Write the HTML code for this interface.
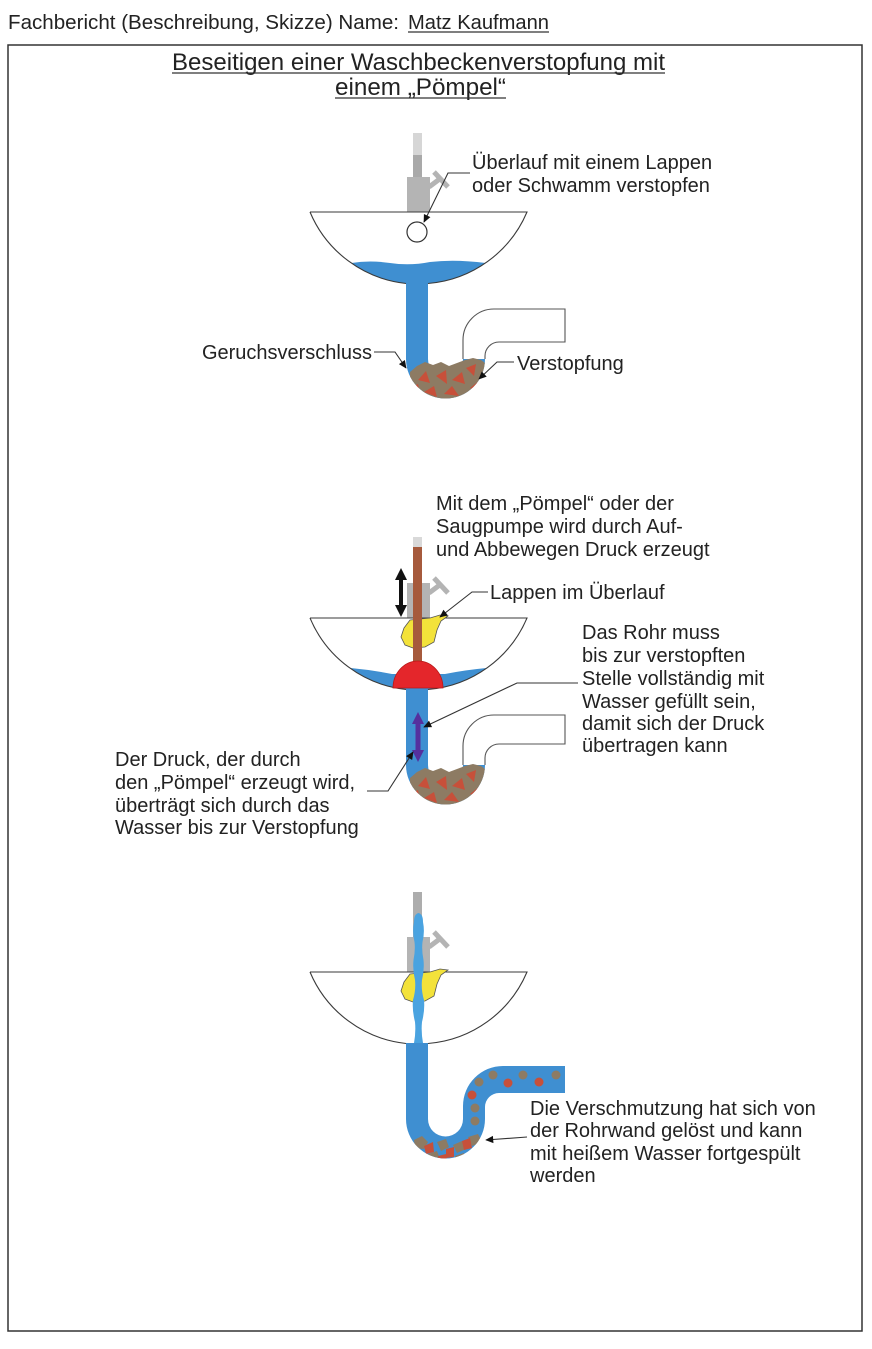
<!DOCTYPE html>
<html><head><meta charset="utf-8"><style>
html,body{margin:0;padding:0;background:#fff;}
svg{display:block;}
text{font-family:"Liberation Sans",Arial,sans-serif;fill:#222;}
</style></head><body>
<svg width="872" height="1349" viewBox="0 0 872 1349" xmlns="http://www.w3.org/2000/svg">
<defs>
<marker id="ah" viewBox="0 0 10 10" refX="9" refY="5" markerWidth="10" markerHeight="8" markerUnits="userSpaceOnUse" orient="auto"><path d="M0,0.5 L10,5 L0,9.5 Z" fill="#111"/></marker>
<clipPath id="uc"><path d="M406,330 L406,359 A39.5,39.5 0 0 0 485,359 L485,330 Z"/></clipPath>
<clipPath id="p3"><path d="M406,283 L406,359 A39.5,39.5 0 0 0 485,359 L485,347 A14,14 0 0 1 499,333 L565,333 L565,306 L503,306 A40,40 0 0 0 463,346 L463,359 A17.5,17.5 0 0 1 428,359 L428,283 Z"/></clipPath>
<g id="faucet">
<rect x="407" y="177" width="23" height="35" fill="#b4b4b4"/>
<line x1="429" y1="187" x2="441" y2="178" stroke="#b4b4b4" stroke-width="5"/>
<line x1="434" y1="172" x2="448" y2="187" stroke="#b4b4b4" stroke-width="5"/>
</g>
<path id="bowlfill" d="M310,212 L527,212 A117.75,117.75 0 0 1 310,212 Z" fill="#fff"/>
<path id="bowlstroke" d="M310,212 L527,212 A117.75,117.75 0 0 1 428,283.5 M406,283.5 A117.75,117.75 0 0 1 310,212" fill="none" stroke="#3a3a3a" stroke-width="1.1"/>
<path id="pipeblue" d="M406,282 L406,359 A39.5,39.5 0 0 0 485,359 L463,359 A17.5,17.5 0 0 1 428,359 L428,282 Z" fill="#3f8fd1"/>
<g id="dirt">
<g clip-path="url(#uc)">
<path d="M410,372 L417,366 L425,362 L433,365 L441,362 L449,366 L457,363 L465,360 L473,358 L481,360 L489,366 L489,402 L410,402 Z" fill="#8d7b63"/>
<path fill="#c7503a" d="M418,380 L426,371 L430,383 Z M436,376 L446,370 L447,384 Z M452,380 L462,372 L465,384 Z M466,368 L476,364 L474,376 Z M424,392 L434,386 L437,397 Z M444,394 L452,386 L459,396 Z M470,388 L480,380 L482,392 Z M410,388 L418,384 L420,394 Z"/>
</g>
</g>
</defs>

<!-- Header -->
<text x="8" y="29" font-size="20" textLength="391" lengthAdjust="spacingAndGlyphs">Fachbericht (Beschreibung, Skizze) Name:</text>
<text x="408" y="29" font-size="20" textLength="141" lengthAdjust="spacingAndGlyphs">Matz Kaufmann</text>
<line x1="408" y1="32" x2="549" y2="32" stroke="#333" stroke-width="1.2"/>

<!-- Box -->
<rect x="8" y="45" width="854" height="1286" fill="none" stroke="#333" stroke-width="1.5"/>

<!-- Title -->
<text x="172" y="70" font-size="24" textLength="493" lengthAdjust="spacingAndGlyphs">Beseitigen einer Waschbeckenverstopfung mit</text>
<line x1="172" y1="73" x2="665" y2="73" stroke="#333" stroke-width="1.2"/>
<text x="335" y="95" font-size="24" textLength="171" lengthAdjust="spacingAndGlyphs">einem „Pömpel“</text>
<line x1="335" y1="98" x2="506" y2="98" stroke="#333" stroke-width="1.2"/>

<!-- ===== Sink 1 ===== -->
<g>
<rect x="413" y="133" width="9" height="22" fill="#d6d6d6"/>
<rect x="413" y="155" width="9" height="22" fill="#a9a9a9"/>
<use href="#faucet"/>
<use href="#bowlfill"/>
<path d="M351.4,263 Q370,260 390,263 Q410,266 430,262 Q455,259 485.6,263 A117.75,117.75 0 0 1 428,283.5 L406,283.5 A117.75,117.75 0 0 1 351.4,263 Z" fill="#3f8fd1"/>
<use href="#pipeblue"/>
<path d="M463,359 L463,340 A31,31 0 0 1 494,309 L565,309 L565,342 L499,342 A14,14 0 0 0 485,356 L485,359" fill="#fff" stroke="#555" stroke-width="1.1"/>
<use href="#dirt"/>
<use href="#bowlstroke"/>
<circle cx="417" cy="232" r="10" fill="#fff" stroke="#333" stroke-width="1.2"/>
</g>
<polyline points="470,173 448,173 424,222" fill="none" stroke="#333" stroke-width="1.1" marker-end="url(#ah)"/>
<polyline points="374,352 395,352 406,368" fill="none" stroke="#333" stroke-width="1.1" marker-end="url(#ah)"/>
<polyline points="514,362 497,362 479,379" fill="none" stroke="#333" stroke-width="1.1" marker-end="url(#ah)"/>
<text x="472" y="169" font-size="20">Überlauf mit einem Lappen</text>
<text x="472" y="192" font-size="20">oder Schwamm verstopfen</text>
<text x="372" y="359" font-size="20" text-anchor="end">Geruchsverschluss</text>
<text x="517" y="370" font-size="20">Verstopfung</text>

<!-- ===== Sink 2 ===== -->
<g transform="translate(0,406)">
<use href="#faucet"/>
<polygon points="401,162 407,174 403,174 403,199 407,199 401,211 395,199 399,199 399,174 395,174" fill="#111"/>
<use href="#bowlfill"/>
<path d="M350.5,262 Q372,264 392,268 L445,268 Q465,264 486.5,262 A117.75,117.75 0 0 1 428,283.5 L406,283.5 A117.75,117.75 0 0 1 350.5,262 Z" fill="#3f8fd1"/>
<use href="#pipeblue"/>
<path d="M463,359 L463,340 A31,31 0 0 1 494,309 L565,309 L565,338 L499,338 A14,14 0 0 0 485,352 L485,359" fill="#fff" stroke="#555" stroke-width="1.1"/>
<use href="#dirt"/>
<use href="#bowlstroke"/>
<path d="M404,222 L410,214 L420,213 L430,212 L440,209 L448,210 L441,215 L437,224 L434,236 L425,241 L413,242 L405,239 L401,231 Z" fill="#f3e23a" stroke="#555" stroke-width="0.8"/>
<rect x="413" y="131" width="9" height="10" fill="#d9d9d9"/>
<rect x="413" y="141" width="9" height="118" fill="#a65a3c"/>
<path d="M393,282 A25,27 0 0 1 443,282 Z" fill="#e4262b" stroke="#b81818" stroke-width="0.8"/>
<polygon points="418,306 424,318 420.5,318 420.5,344 424,344 418,356 412,344 415.5,344 415.5,318 412,318" fill="#55309e"/>
</g>
<polyline points="488,592 472,592 440,617" fill="none" stroke="#333" stroke-width="1.1" marker-end="url(#ah)"/>
<polyline points="578,683 517,683 424,727" fill="none" stroke="#333" stroke-width="1.1" marker-end="url(#ah)"/>
<polyline points="367,791 388,791 413,752" fill="none" stroke="#333" stroke-width="1.1" marker-end="url(#ah)"/>
<text x="436" y="510" font-size="20">Mit dem „Pömpel“ oder der</text>
<text x="436" y="533" font-size="20">Saugpumpe wird durch Auf-</text>
<text x="436" y="556" font-size="20">und Abbewegen Druck erzeugt</text>
<text x="490" y="599" font-size="20">Lappen im Überlauf</text>
<text x="582" y="639" font-size="20">Das Rohr muss</text>
<text x="582" y="662" font-size="20">bis zur verstopften</text>
<text x="582" y="685" font-size="20">Stelle vollständig mit</text>
<text x="582" y="708" font-size="20">Wasser gefüllt sein,</text>
<text x="582" y="730" font-size="20">damit sich der Druck</text>
<text x="582" y="752" font-size="20">übertragen kann</text>
<text x="115" y="766" font-size="20">Der Druck, der durch</text>
<text x="115" y="789" font-size="20">den „Pömpel“ erzeugt wird,</text>
<text x="115" y="812" font-size="20">überträgt sich durch das</text>
<text x="115" y="834" font-size="20">Wasser bis zur Verstopfung</text>

<!-- ===== Sink 3 ===== -->
<g transform="translate(0,760)">
<rect x="413" y="132" width="9" height="45" fill="#adadad"/>
<use href="#faucet"/>
<use href="#bowlfill"/>
<path d="M406,283 L406,359 A39.5,39.5 0 0 0 485,359 L485,347 A14,14 0 0 1 499,333 L565,333 L565,306 L503,306 A40,40 0 0 0 463,346 L463,359 A17.5,17.5 0 0 1 428,359 L428,283 Z" fill="#3f8fd1"/>
<g clip-path="url(#p3)">
<circle cx="493" cy="315" r="4.5" fill="#8d7b63"/>
<circle cx="508" cy="323" r="4.5" fill="#c7503a"/>
<circle cx="523" cy="315" r="4.5" fill="#8d7b63"/>
<circle cx="539" cy="322" r="4.5" fill="#c7503a"/>
<circle cx="556" cy="315" r="4.5" fill="#8d7b63"/>
<circle cx="479" cy="322" r="4.5" fill="#8d7b63"/>
<circle cx="472" cy="335" r="4.5" fill="#c7503a"/>
<circle cx="475" cy="348" r="4.5" fill="#8d7b63"/>
<circle cx="475" cy="361" r="4.5" fill="#8d7b63"/>
<path fill="#8d7b63" d="M414,380 L422,376 L428,382 L424,389 L415,388 Z M437,382 L446,379 L449,387 L441,391 Z M453,385 L462,381 L466,389 L457,393 Z M468,377 L478,374 L482,382 L472,386 Z M428,394 L437,391 L440,399 L430,401 Z M455,396 L464,393 L466,401 L456,402 Z"/>
<path fill="#c7503a" d="M424,386 L433,382 L434,392 L426,394 Z M446,389 L454,387 L454,397 L446,398 Z M462,381 L470,378 L472,388 L464,390 Z M476,384 L484,381 L484,390 L477,392 Z M438,396 L446,394 L447,402 L439,402 Z"/>
</g>
<use href="#bowlstroke"/>
<path d="M404,222 L410,214 L420,213 L430,212 L440,209 L448,210 L441,215 L437,224 L434,236 L425,241 L413,242 L405,239 L401,231 Z" fill="#f3e23a" stroke="#555" stroke-width="0.8"/>
<path d="M418.5,153 Q423,154 423,162 Q425,172 422.5,182 Q421.5,190 423.5,200 Q424.5,210 422,220 Q421,230 424,240 Q425,250 422,262 Q421,272 423,283 L414,283 Q416,272 415,262 Q412,250 413,240 Q416,230 415,220 Q412.5,210 413.5,200 Q415.5,190 414.5,182 Q412,172 414,162 Q414,154 418.5,153 Z" fill="#4aa3e0"/>
</g>
<polyline points="527,1137 486,1140" fill="none" stroke="#333" stroke-width="1.1" marker-end="url(#ah)"/>
<text x="530" y="1115" font-size="20">Die Verschmutzung hat sich von</text>
<text x="530" y="1137" font-size="20">der Rohrwand gelöst und kann</text>
<text x="530" y="1160" font-size="20">mit heißem Wasser fortgespült</text>
<text x="530" y="1182" font-size="20">werden</text>
</svg>
</body></html>
